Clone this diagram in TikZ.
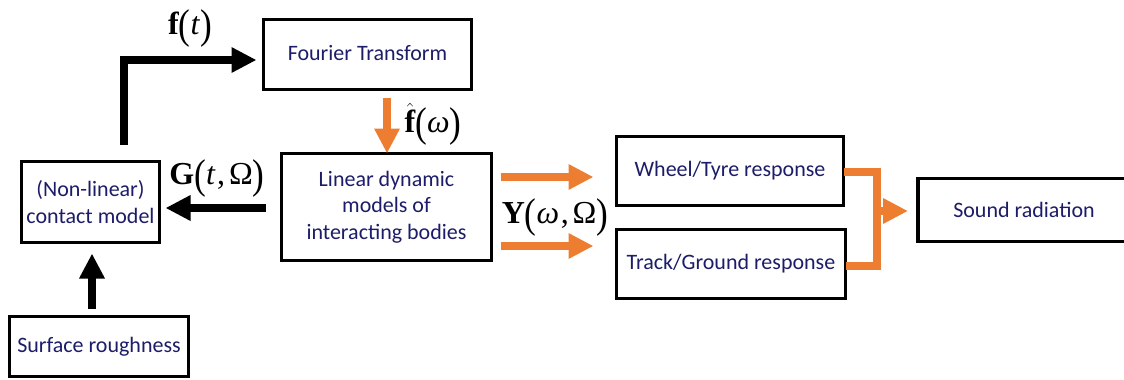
\documentclass[tikz,border=0pt]{standalone}
\usepackage{fontspec}
\usepackage{graphicx}
\setmainfont{Carlito}
\newfontfamily\lblfont{Liberation Serif}
\usetikzlibrary{arrows.meta,calc}
\definecolor{txtblue}{RGB}{28,28,105}
\definecolor{orng}{RGB}{237,125,49}
% tall parentheses for the signal labels
\newcommand{\tlp}{\raisebox{-0.12em}{\scalebox{1.1}[1.3]{(}}}
\newcommand{\trp}{\raisebox{-0.12em}{\scalebox{1.1}[1.3]{)}}}

\begin{document}
\begin{tikzpicture}[x=1pt,y=-1pt,
  box/.style={draw=black,line width=3.5pt,inner sep=0pt,outer sep=0pt,
    text=txtblue,font=\fontsize{22}{26.5}\selectfont,align=center},
  blk/.style={draw=black,line width=8pt,-{Triangle[length=25pt,width=24pt]}},
  org/.style={draw=orng,line width=8pt,-{Triangle[length=25pt,width=24pt]}},
  lbl/.style={font=\lblfont\fontsize{32}{32}\selectfont,inner sep=0pt}]

\useasboundingbox (0,0) rectangle (1124,380);
\clip (0,0) rectangle (1124,380);

% blocks
\node[box,minimum width=208pt,minimum height=70pt] (fourier) at (367.5,54.5) {\raisebox{4pt}{Fourier Transform}};
\node[box,minimum width=138pt,minimum height=81pt] (contact) at (90.5,202) {(Non-linear)\\contact model};
\node[box,minimum width=179pt,minimum height=60pt] (rough) at (99,346.5) {Surface roughness};
\node[box,minimum width=210pt,minimum height=107pt] (linear) at (386.5,207) {Linear dynamic\\models of\\interacting bodies};
\node[box,minimum width=227pt,minimum height=69pt] (wheel) at (730,171) {Wheel/Tyre response};
\node[box,minimum width=229pt,minimum height=69pt] (track) at (731,264) {Track/Ground response};
\node[box,minimum width=212pt,minimum height=63pt] (sound) at (1024,210) {Sound radiation};

% signal labels
\node[lbl] (ft) at (190,28) {\textbf{f}\tlp\textit{t}\trp};
\node[lbl] (fw) at (433,124) {$\hat{\hbox{\lblfont\bfseries f}}$\tlp\textit{ω}\trp};
\node[lbl] (gt) at (217,178) {\textbf{G}\tlp\textit{t}\kern0.05em,\kern0.12emΩ\trp};
\node[lbl] (yw) at (555,217) {\textbf{Y}\tlp\textit{ω}\kern0.05em,\kern0.12emΩ\trp};

% time-domain loop (black)
\coordinate (up) at (124,145);
\draw[blk,line join=miter] (up) |- ($(fourier.west)+(-7,5.5)$);
\draw[blk] (linear.west |- 0,208) ++(-16,0) -- ($(contact.east |- 0,208)+(6,0)$);
\draw[blk] ($(rough.north -| 92,0)+(0,-8)$) -- ($(contact.south -| 92,0)+(0,11)$);

% frequency-domain flow (orange)
\draw[org] ($(fourier.south -| 387,0)+(0,8)$) -- (linear.north -| 387,0);
\draw[org] ($(linear.east |- 0,177)+(9,0)$) -- ($(wheel.west |- 0,177)+(-23,0)$);
\draw[org] ($(linear.east |- 0,246)+(9,0)$) -- ($(track.west |- 0,246)+(-23,0)$);

% responses merged into the radiation block
\coordinate (merge) at (877,211);
\draw[orng,line width=8pt,line join=miter] (wheel.east |- 0,172) -| (merge |- 0,172) -- (merge |- 0,266) -- (track.east |- 0,266);
\draw[org] (merge) -- ($(sound.west)+(-10,1)$);
\end{tikzpicture}
\end{document}
